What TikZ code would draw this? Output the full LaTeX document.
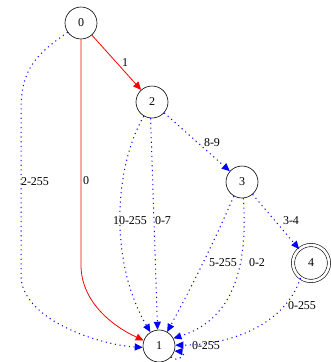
\documentclass[tikz,border=0pt]{standalone}
\usepackage{fontspec}
\setmainfont{Liberation Serif}
\usetikzlibrary{arrows.meta}
\begin{document}
\begin{tikzpicture}[x=1pt,y=-1pt,
  st/.style={draw, circle, minimum size=32pt, inner sep=0pt, line width=0.6pt, font=\fontsize{12}{13}\selectfont},
  acc/.style={st, minimum size=36pt, double, double distance=2.6pt},
  lbl/.style={inner sep=0pt, font=\fontsize{12}{13}\selectfont},
  redE/.style={draw=red, line width=0.8pt, -{Triangle[width=7pt,length=8pt,fill=red]}},
  blueE/.style={draw=blue, line width=1pt, dash pattern=on 1.1pt off 3.6pt, -{Triangle[width=7pt,length=8pt,fill=blue]}}]
\useasboundingbox (0,0) rectangle (331,362);
\node[st] (n0) at (81,23) {0};
\node[st] (n2) at (152,102) {2};
\node[st] (n3) at (242,182) {3};
\node[acc] (n4) at (311,263) {4};
\node[st] (n1) at (159,346) {1};
% edges
\draw[redE] (n0) -- (n2);
\draw[redE] (n0.south) -- (81,265) .. controls (81,300) and (110,325) .. (n1.160);
\draw[blueE] (n0.215) .. controls (35,55) and (21,70) .. (21,110) -- (21,275) .. controls (21,320) and (100,345) .. (n1.185);
\draw[blueE] (n2.240) .. controls (115,165) and (108,260) .. (n1.122);
\draw[blueE] (n2.265) -- (n1.95);
\draw[blueE] (n2) -- (n3);
\draw[blueE] (n3.240) .. controls (215,240) and (190,290) .. (n1.60);
\draw[blueE] (n3.275) .. controls (250,295) and (215,325) .. (n1.28);
\draw[blueE] (n3) -- (n4);
\draw[blueE] (n4.235) .. controls (285,325) and (230,345) .. (n1.3);
\draw[blueE] (n1.-42) .. controls (178,364) and (188,352) .. (n1.-18);
% labels
\node[lbl] (l1) at (125,63) {1};
\node[lbl] (l2) at (35,182) {2-255};
\node[lbl] (l3) at (86,181) {0};
\node[lbl] (l4) at (130,221) {10-255};
\node[lbl] (l5) at (163,221) {0-7};
\node[lbl] (l6) at (212,143) {8-9};
\node[lbl] (l7) at (223,263) {5-255};
\node[lbl] (l8) at (257,263) {0-2};
\node[lbl] (l9) at (291,221) {3-4};
\node[lbl] (l10) at (302,306) {0-255};
\node[lbl] (l11) at (206,346) {0-255};
\end{tikzpicture}
\end{document}
